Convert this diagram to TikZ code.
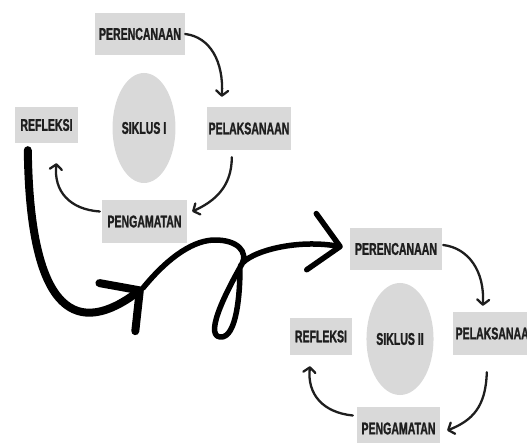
\documentclass[tikz,border=0pt]{standalone}
\usepackage{fontspec}
\newfontfamily\tahapfont{Liberation Sans}[FakeStretch=0.62, FakeBold=1.2]
\usetikzlibrary{shapes.geometric,arrows.meta,calc}
\definecolor{boxgray}{RGB}{217,217,217}
\definecolor{inkdark}{RGB}{30,30,30}

\begin{document}
\begin{tikzpicture}[x=1pt, y=-1pt,
        tahap/.style = {fill=boxgray, text=inkdark, inner sep=0pt, minimum height=42pt,
            font=\tahapfont\bfseries\fontsize{17}{17}\selectfont},
        siklus/.style = {ellipse, fill=boxgray, text=inkdark, inner sep=0pt,
            minimum width=62pt, minimum height=110pt,
            font=\tahapfont\bfseries\fontsize{17}{17}\selectfont},
        putar/.style = {draw=inkdark, line width=2.3pt, line cap=round,
            -{Straight Barb[length=5pt, width=12pt, round]}},
        lompat/.style = {draw=black, line cap=round, line join=round},
    ]
    \useasboundingbox (0,0) rectangle (527,443);

    % siklus I
    \node [tahap, minimum width=90pt] (per1) at (140,34) {PERENCANAAN};
    \node [siklus] (sik1) at (144,128) {SIKLUS I};
    \node [tahap, minimum width=63pt, minimum height=36pt] (ref1) at (46.5,125) {REFLEKSI};
    \node [tahap, minimum width=84pt, minimum height=43pt] (pel1) at (249,128.5) {PELAKSANAAN};
    \node [tahap, minimum width=85pt, minimum height=43pt] (eng1) at (144.5,221.5) {PENGAMATAN};

    % siklus II
    \node [tahap, minimum width=92pt] (per2) at (396,249) {PERENCANAAN};
    \node [siklus, minimum width=66pt, minimum height=112pt] (sik2) at (400,339) {SIKLUS II};
    \node [tahap, minimum width=62pt, minimum height=37pt] (ref2) at (321,336.5) {REFLEKSI};
    \node [tahap, minimum width=86pt, minimum height=43pt] (pel2) at (496,333.5) {PELAKSANAAN};
    \node [tahap, minimum width=83pt, minimum height=43pt] (eng2) at (398.5,428.5) {PENGAMATAN};

    % panah siklus I
    \draw [putar] (per1.east) .. controls +(25,3) and +(2,-35) .. ($(pel1.north west)+(15,-10)$);
    \draw [putar] ($(pel1.south west)+(25,7)$) .. controls +(0,30) and +(22,-10) .. ($(eng1.east)+(5,-10)$);
    \draw [putar] ($(eng1.west)+(-2,-10)$) .. controls +(-30,-2) and +(-3,28) .. ($(ref1.south)+(10,20)$);

    % panah siklus II
    \draw [putar] ($(per2.east)+(1,-4)$) .. controls +(25,3) and +(2,-35) .. ($(pel2.north west)+(30,-6)$);
    \draw [putar] ($(pel2.south west)+(34,17)$) .. controls +(-1,35) and +(25,-10) .. ($(eng2.east)+(7,2)$);
    \draw [putar] ($(eng2.west)+(-4,-13)$) .. controls +(-30,-3) and +(-3,28) .. ($(ref2.south)+(-11,11)$);

    % panah besar ke siklus II
    \coordinate (belok) at (143,288);
    \draw [lompat, line width=8pt, -{Straight Barb[length=28pt, width=60pt, round]}]
        ($(ref1.south west)+(13,7)$) .. controls (30,320) and (80,335) .. (belok);
    \draw [lompat, line width=5.5pt, -{Straight Barb[length=29pt, width=57pt, round]}]
        (belok) .. controls (170,255) and (195,240) .. (215,240)
        .. controls (238,240) and (248,252) .. (242,264)
        .. controls (230,285) and (203,335) .. (220,337)
        .. controls (237,339) and (240,292) .. (240,268)
        .. controls (241,255) and (290,238) .. ($(per2.west)+(-7,-2)$);
\end{tikzpicture}
\end{document}
